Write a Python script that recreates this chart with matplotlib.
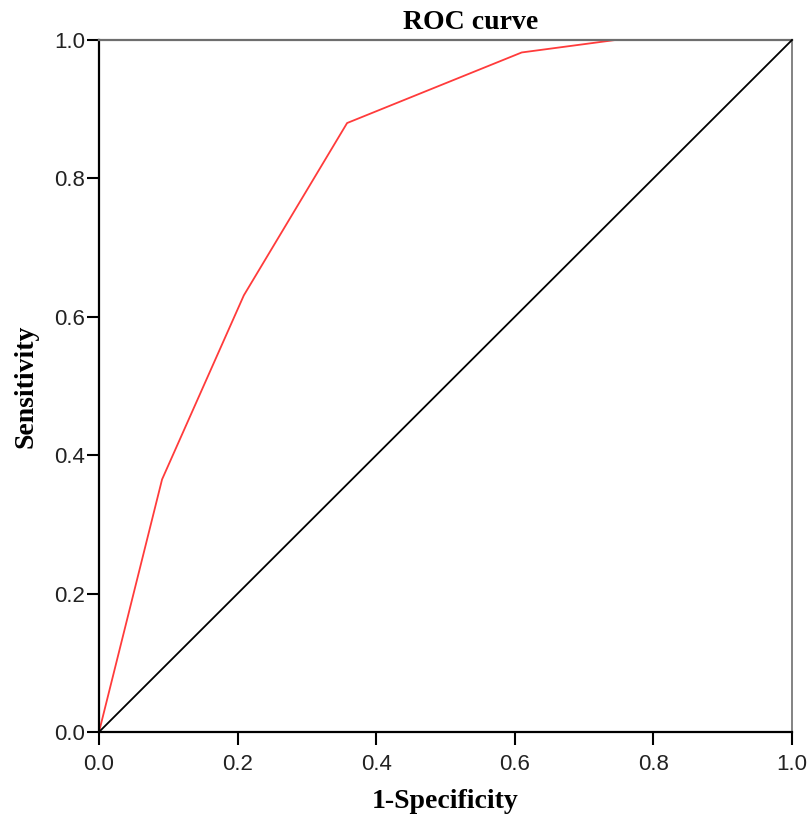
import matplotlib
matplotlib.use("Agg")
import matplotlib.pyplot as plt

# ROC points
fpr = [0.0, 0.091, 0.209, 0.358, 0.610, 0.745, 1.0]
tpr = [0.0, 0.365, 0.631, 0.880, 0.982, 1.0, 1.0]

ref_x = [0.0, 1.0]
ref_y = [0.0, 1.0]

ticks = [0.0, 0.2, 0.4, 0.6, 0.8, 1.0]
tick_labels = ["0.0", "0.2", "0.4", "0.6", "0.8", "1.0"]

fig = plt.figure(figsize=(8.10, 8.18), dpi=100)
ax = fig.add_axes([99 / 810, 86 / 818, 693 / 810, 692 / 818])

ax.plot(ref_x, ref_y, color="black", lw=1.3, clip_on=False, zorder=3)
ax.plot(fpr, tpr, color="#ff3b3b", lw=1.3, clip_on=False, zorder=2)

ax.set_xlim(0, 1)
ax.set_ylim(0, 1)
ax.set_xticks(ticks)
ax.set_xticklabels(tick_labels)
ax.set_yticks(ticks)
ax.set_yticklabels(tick_labels)

for lab in ax.get_xticklabels() + ax.get_yticklabels():
    lab.set_fontfamily("Liberation Sans")
    lab.set_fontsize(16)
    lab.set_color("#222222")

ax.tick_params(axis="x", direction="out", length=9, width=1.5, pad=7)
ax.tick_params(axis="y", direction="out", length=9, width=1.5, pad=1)

ax.spines["left"].set_linewidth(1.6)
ax.spines["bottom"].set_linewidth(1.6)
ax.spines["top"].set_color("#6e6e6e")
ax.spines["top"].set_linewidth(1.6)
ax.spines["right"].set_color("#6e6e6e")
ax.spines["right"].set_linewidth(1.2)

serif = dict(fontfamily="Liberation Serif", fontweight="bold", fontsize=20)
# title sits a bit right of centre in the original
fig.text(471 / 810, 1 - 29 / 818, "ROC curve", ha="center", va="baseline", **serif)
ax.set_xlabel("1-Specificity", labelpad=10, **serif)
ax.set_ylabel("Sensitivity", labelpad=11, **serif)

fig.savefig("out.png", dpi=100, facecolor="white")
